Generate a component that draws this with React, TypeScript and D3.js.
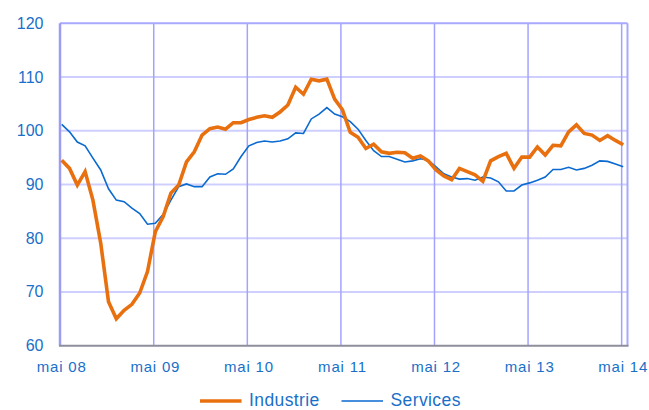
import * as d3 from "d3";

// monthly, mai 08 .. mai 14
const industrie = [
  94.5, 93.0, 89.9, 92.4, 87.1, 79.1, 68.2, 65.0, 66.6, 67.7, 69.8, 73.8,
  81.2, 84.0, 88.4, 89.9, 94.2, 96.1, 99.2, 100.4, 100.7, 100.3, 101.5, 101.5,
  102.1, 102.5, 102.8, 102.5, 103.5, 104.8, 108.1, 106.8, 109.6, 109.3, 109.6, 105.9,
  103.9, 99.7, 98.8, 96.7, 97.5, 96.1, 95.8, 96.0, 95.9, 94.9, 95.3, 94.4,
  92.7, 91.6, 90.9, 93.0, 92.4, 91.8, 90.6, 94.4, 95.2, 95.8, 93.0, 95.1,
  95.1, 97.0, 95.5, 97.3, 97.2, 99.8, 101.1, 99.5, 99.2, 98.2, 99.1, 98.2,
  97.4,
];

const services = [
  101.2, 99.8, 97.9, 97.2, 94.9, 92.7, 89.2, 87.1, 86.8, 85.6, 84.6, 82.6,
  82.8, 84.4, 87.1, 89.6, 90.1, 89.6, 89.6, 91.4, 92.0, 91.9, 92.9, 95.2,
  97.2, 97.8, 98.1, 97.9, 98.1, 98.5, 99.6, 99.5, 102.2, 103.1, 104.3, 103.1,
  102.6, 101.7, 100.3, 98.2, 96.3, 95.2, 95.2, 94.7, 94.2, 94.4, 94.8, 94.5,
  93.3, 92.0, 91.4, 91.0, 91.1, 90.8, 91.4, 91.2, 90.5, 88.8, 88.8, 89.9,
  90.3, 90.8, 91.4, 92.8, 92.8, 93.2, 92.7, 93.0, 93.6, 94.4, 94.3, 93.8,
  93.3,
];

const xLabels = ["mai 08", "mai 09", "mai 10", "mai 11", "mai 12", "mai 13", "mai 14"];
const yTicks = [60, 70, 80, 90, 100, 110, 120];
const legend = [
  { name: "Industrie", color: "#e8700f", width: 3.6 },
  { name: "Services", color: "#0a6ad0", width: 1.6 },
];

const W = 649;
const H = 410;
const textColor = "#1a6fc9";
const font = "'Liberation Sans', Arial, sans-serif";

export default function App() {
  const x = d3.scaleLinear().domain([-0.22, 72.55]).range([60, 627.5]);
  const y = d3.scaleLinear().domain([60, 120]).range([345.7, 23.3]);
  const left = x.range()[0];
  const right = x.range()[1];

  const line = d3
    .line<number>()
    .x((_, i) => x(i))
    .y((d) => y(d));

  return (
    <svg
      width={W}
      height={H}
      style={{ position: "absolute", left: 0, top: 0, background: "#fff" }}
      fontFamily={font}
    >
      {/* horizontal grid */}
      {yTicks.slice(1, -1).map((t) => (
        <line key={t} x1={left} x2={right} y1={y(t)} y2={y(t)} stroke="#cfcfff" strokeWidth={2} />
      ))}
      {/* vertical grid */}
      {xLabels.slice(1).map((_, k) => (
        <line
          key={k}
          x1={x(12 * (k + 1) - 0.2)}
          x2={x(12 * (k + 1) - 0.2)}
          y1={y(120)}
          y2={y(60)}
          stroke="#a3a3ff"
          strokeWidth={1.5}
        />
      ))}
      {/* frame */}
      <line x1={left} x2={right} y1={y(120)} y2={y(120)} stroke="#a8a8ff" strokeWidth={2} />
      <line x1={right} x2={right} y1={y(120)} y2={y(60)} stroke="#a8a8ff" strokeWidth={2} />
      <line x1={left} x2={left} y1={y(120)} y2={y(60)} stroke="#9c9cf5" strokeWidth={2.5} />
      <line x1={left - 1} x2={right + 1} y1={y(60)} y2={y(60)} stroke="#8e8e9c" strokeWidth={2} />

      {/* y labels */}
      {yTicks.map((t) => (
        <text
          key={t}
          x={43.5}
          y={y(t)}
          textAnchor="end"
          dominantBaseline="central"
          fontSize={16}
          fill={textColor}
        >
          {t}
        </text>
      ))}
      {/* x labels */}
      {xLabels.map((l, k) => (
        <text
          key={l}
          x={x(12 * k)}
          y={366}
          textAnchor="middle"
          dominantBaseline="central"
          fontSize={15}
          letterSpacing={0.8}
          fill={textColor}
        >
          {l}
        </text>
      ))}

      <path d={line(services) ?? ""} fill="none" stroke="#0a6ad0" strokeWidth={1.6} />
      <path d={line(industrie) ?? ""} fill="none" stroke="#e8700f" strokeWidth={3.6} />

      {/* legend */}
      {legend.map((s, i) => {
        const lx = 200 + i * 141.5;
        return (
          <g key={s.name}>
            <line x1={lx} x2={lx + 41.5} y1={401} y2={401} stroke={s.color} strokeWidth={s.width} />
            <text x={lx + 49} y={405.5} fontSize={17.5} letterSpacing={0.4} fill={textColor}>
              {s.name}
            </text>
          </g>
        );
      })}
    </svg>
  );
}
